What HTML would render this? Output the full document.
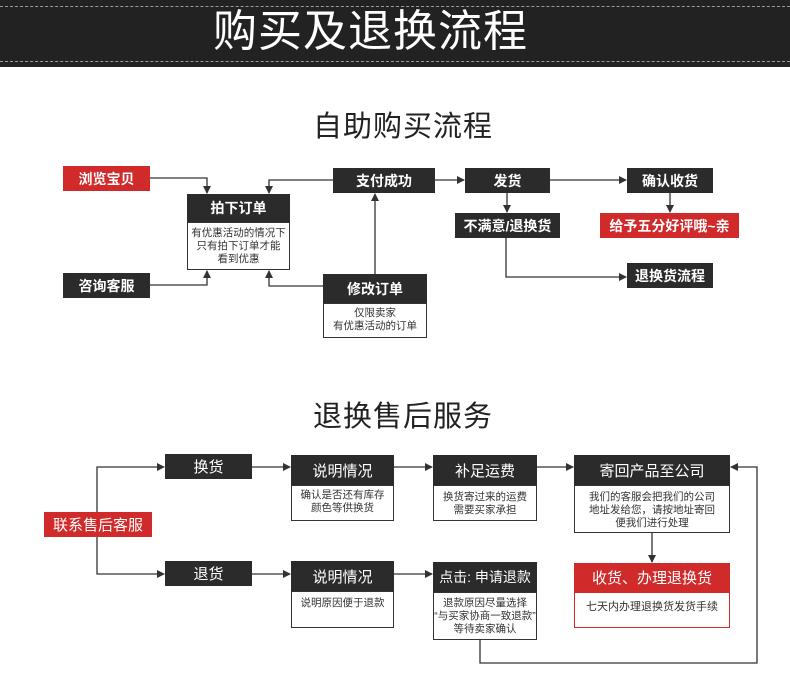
<!DOCTYPE html>
<html><head><meta charset="utf-8"><style>
body{margin:0;width:790px;height:675px;background:#fff;position:relative;overflow:hidden;font-family:"Liberation Sans","Noto Sans CJK SC",sans-serif}
.b{position:absolute;box-sizing:border-box;display:flex;align-items:center;justify-content:center;color:#fff;font-weight:bold;font-size:14px;background:#2b2b2b;white-space:nowrap}
.r{background:#d02a2a}
.w{position:absolute;box-sizing:border-box;border:1px solid #333;background:#fff;color:#333;font-size:10.5px;line-height:13px;text-align:center;padding-top:4px;white-space:nowrap}
.h{position:absolute;font-size:29px;color:#222;letter-spacing:1px}
svg{position:absolute;left:0;top:0}
</style></head><body>
<div style="position:absolute;left:0;top:0;width:790px;height:67px;background:#222"></div>
<div style="position:absolute;left:0;top:6px;width:790px;border-top:1px dashed #999"></div>
<div style="position:absolute;left:0;top:61px;width:790px;border-top:1px dashed #999"></div>
<div style="position:absolute;left:213px;top:4px;font-size:44px;color:#fff;line-height:56px;letter-spacing:1px">购买及退换流程</div>
<div class="h" style="left:313px;top:103px">自助购买流程</div>
<div class="h" style="left:313px;top:393px">退换售后服务</div>

<svg width="790" height="675" fill="none" stroke="#333" stroke-width="1.3">
<defs><marker id="a" markerWidth="8" markerHeight="8" refX="7" refY="4" orient="auto" markerUnits="userSpaceOnUse"><path d="M0,0L8,4L0,8z" fill="#333" stroke="none"/></marker></defs>
<path d="M150,178H207V193" marker-end="url(#a)"/>
<path d="M333,180H269V193" marker-end="url(#a)"/>
<path d="M150,285H207V271" marker-end="url(#a)"/>
<path d="M323,286H269V271" marker-end="url(#a)"/>
<path d="M375,274V194" marker-end="url(#a)"/>
<path d="M435,180H464" marker-end="url(#a)"/>
<path d="M550,180H626" marker-end="url(#a)"/>
<path d="M507,193V212" marker-end="url(#a)"/>
<path d="M670,193V212" marker-end="url(#a)"/>
<path d="M506,238V277H626" marker-end="url(#a)"/>
<path d="M152,524H97V467H164" marker-end="url(#a)"/>
<path d="M97,524V574H164" marker-end="url(#a)"/>
<path d="M252,467H290" marker-end="url(#a)"/>
<path d="M252,574H290" marker-end="url(#a)"/>
<path d="M394,467H432" marker-end="url(#a)"/>
<path d="M394,574H432" marker-end="url(#a)"/>
<path d="M537,467H573" marker-end="url(#a)"/>
<path d="M652,533V562" marker-end="url(#a)"/>
<path d="M480,640V663H757V467H731" marker-end="url(#a)"/>
</svg>

<div class="b r" style="left:63px;top:166px;width:87px;height:25px">浏览宝贝</div>
<div class="b" style="left:63px;top:273px;width:87px;height:25px">咨询客服</div>
<div class="b" style="left:187px;top:194px;width:103px;height:28px">拍下订单</div>
<div class="w" style="left:187px;top:222px;width:103px;height:48px">有优惠活动的情况下<br>只有拍下订单才能<br>看到优惠</div>
<div class="b" style="left:333px;top:168px;width:102px;height:25px">支付成功</div>
<div class="b" style="left:323px;top:274px;width:104px;height:29px">修改订单</div>
<div class="w" style="left:323px;top:303px;width:104px;height:35px;padding-top:3px">仅限卖家<br>有优惠活动的订单</div>
<div class="b" style="left:465px;top:168px;width:85px;height:25px">发货</div>
<div class="b" style="left:627px;top:168px;width:86px;height:25px">确认收货</div>
<div class="b" style="left:455px;top:213px;width:105px;height:25px">不满意/退换货</div>
<div class="b r" style="left:600px;top:213px;width:139px;height:25px">给予五分好评哦~亲</div>
<div class="b" style="left:627px;top:263px;width:86px;height:25px">退换货流程</div>

<div class="b r" style="left:44px;top:512px;width:108px;height:25px;font-weight:normal;font-size:15px">联系售后客服</div>
<div class="b" style="left:165px;top:454px;width:87px;height:25px;font-weight:normal;font-size:15px">换货</div>
<div class="b" style="left:165px;top:561px;width:87px;height:25px;font-weight:normal;font-size:15px">退货</div>
<div class="b" style="left:291px;top:455px;width:103px;height:30px;font-weight:normal;font-size:15px">说明情况</div>
<div class="w" style="left:291px;top:485px;width:103px;height:36px;padding-top:3px">确认是否还有库存<br>颜色等供换货</div>
<div class="b" style="left:291px;top:561px;width:103px;height:30px;font-weight:normal;font-size:15px">说明情况</div>
<div class="w" style="left:291px;top:591px;width:103px;height:37px;padding-top:5px">说明原因便于退款</div>
<div class="b" style="left:433px;top:455px;width:104px;height:30px;font-weight:normal;font-size:15px">补足运费</div>
<div class="w" style="left:433px;top:485px;width:104px;height:36px;padding-top:5px">换货寄过来的运费<br>需要买家承担</div>
<div class="b" style="left:433px;top:562px;width:104px;height:30px;font-weight:normal;font-size:14px">点击: 申请退款</div>
<div class="w" style="left:433px;top:592px;width:104px;height:48px;padding-top:4px">退款原因尽量选择<br>“与买家协商一致退款”<br>等待卖家确认</div>
<div class="b" style="left:574px;top:455px;width:156px;height:30px;font-weight:normal;font-size:15px">寄回产品至公司</div>
<div class="w" style="left:574px;top:485px;width:156px;height:48px;padding-top:5px">我们的客服会把我们的公司<br>地址发给您，请按地址寄回<br>便我们进行处理</div>
<div class="b r" style="left:574px;top:563px;width:156px;height:29px;font-weight:normal;font-size:15px">收货、办理退换货</div>
<div class="w" style="left:574px;top:592px;width:156px;height:36px;border-color:#d02a2a;padding-top:8px;font-size:11px">七天内办理退换货发货手续</div>
</body></html>
